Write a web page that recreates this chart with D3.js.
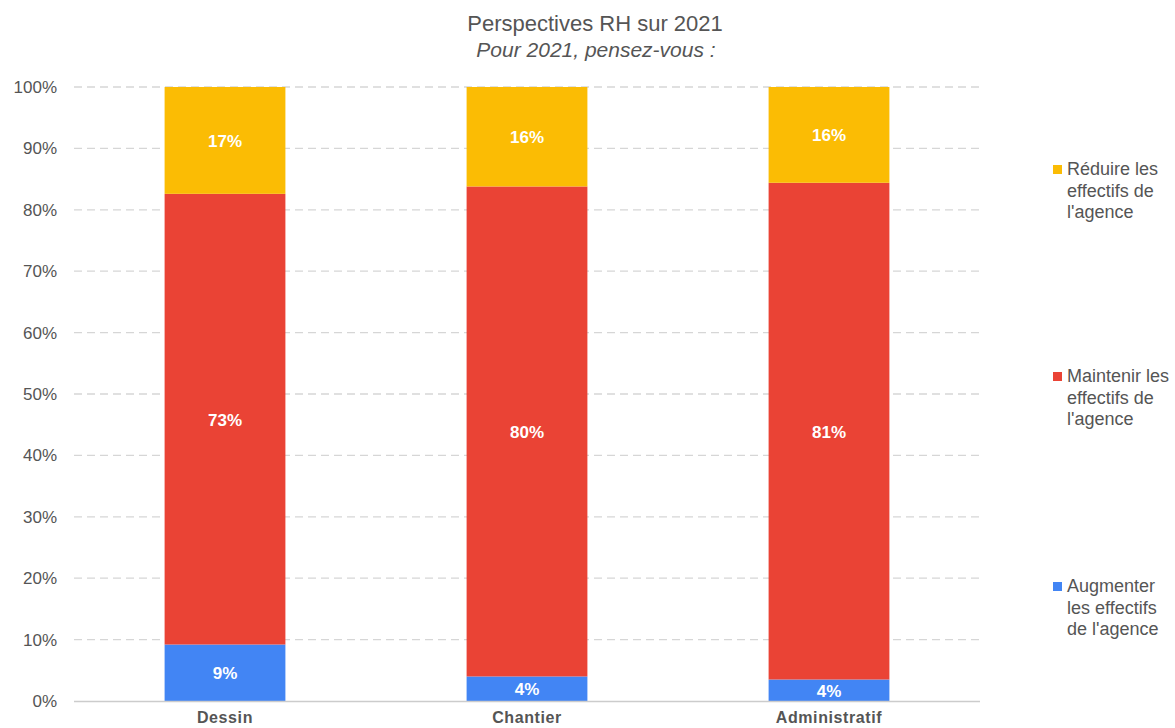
<!DOCTYPE html>
<html>
<head>
<meta charset="utf-8">
<script src="https://cdn.jsdelivr.net/npm/d3@7"></script>
<style>
  body { margin: 0; background: #fff; }
  text { font-family: "Liberation Sans", Arial, sans-serif; }
</style>
</head>
<body>
<div id="container"></div>
<script>
window.onload = function() {
    'use strict';

    const categories = ['Dessin', 'Chantier', 'Administratif'];
    const augmenter  = [9.2, 4.0, 3.5];
    const maintenir  = [73.4, 79.8, 80.9];
    const reduire    = [17.4, 16.2, 15.6];
    const seriesNames = [
        ['Augmenter', 'les effectifs', "de l'agence"],
        ['Maintenir les', 'effectifs de', "l'agence"],
        ['Réduire les', 'effectifs de', "l'agence"]
    ];
    const yTicks = [0, 10, 20, 30, 40, 50, 60, 70, 80, 90, 100];

    const color = {
        augmenter: '#4285f4',
        maintenir: '#ea4335',
        reduire: '#fbbc04',
        text: '#555555',
        grid: '#d6d6d6'
    };

    const canvas = { width: 1175, height: 728 };

    const svg = d3.select('#container')
        .append('svg')
        .attr('width', canvas.width)
        .attr('height', canvas.height);

    const x = d3.scaleBand()
        .domain(categories)
        .range([74, 980])
        .paddingInner(0.6)
        .paddingOuter(0.3);

    const y = d3.scaleLinear()
        .domain([0, 100])
        .range([701, 87]);

    // titre
    svg.append('text')
        .attr('x', 595).attr('y', 31)
        .attr('text-anchor', 'middle')
        .attr('font-size', 22)
        .attr('fill', color.text)
        .text('Perspectives RH sur 2021');
    svg.append('text')
        .attr('x', 596).attr('y', 57)
        .attr('text-anchor', 'middle')
        .attr('font-size', 21)
        .attr('font-style', 'italic')
        .attr('fill', color.text)
        .text('Pour 2021, pensez-vous :');

    // grille
    svg.append('g')
        .selectAll('line')
        .data(yTicks.filter(d => d > 0))
        .join('line')
        .attr('x1', 74).attr('x2', 980)
        .attr('y1', d => y(d)).attr('y2', d => y(d))
        .attr('stroke', color.grid)
        .attr('stroke-width', 1.3)
        .attr('stroke-dasharray', '8,5');

    const yAxis = svg.append('g')
        .attr('transform', 'translate(57,0)')
        .call(d3.axisLeft(y).tickValues(yTicks).tickFormat(d => d + '%').tickSize(0).tickPadding(0));
    yAxis.select('.domain').remove();
    yAxis.selectAll('text')
        .attr('font-size', 17)
        .attr('fill', color.text)
        .attr('font-family', '"Liberation Sans", Arial, sans-serif');

    // barres
    const stacked = categories.map((c, i) => {
        const a = augmenter[i], m = maintenir[i], r = reduire[i];
        return [
            { cat: c, y0: 0, y1: a, v: a, fill: color.augmenter },
            { cat: c, y0: a, y1: a + m, v: m, fill: color.maintenir },
            { cat: c, y0: a + m, y1: a + m + r, v: r, fill: color.reduire }
        ];
    }).flat();

    svg.append('g')
        .selectAll('rect')
        .data(stacked)
        .join('rect')
        .attr('x', d => x(d.cat))
        .attr('width', x.bandwidth())
        .attr('y', d => y(d.y1))
        .attr('height', d => y(d.y0) - y(d.y1))
        .attr('fill', d => d.fill);

    svg.append('g')
        .selectAll('text')
        .data(stacked)
        .join('text')
        .attr('x', d => x(d.cat) + x.bandwidth() / 2)
        .attr('y', d => (y(d.y0) + y(d.y1)) / 2 + 6.5)
        .attr('text-anchor', 'middle')
        .attr('font-size', 17)
        .attr('font-weight', 'bold')
        .attr('fill', '#ffffff')
        .text(d => Math.round(d.v) + '%');

    // axe x
    svg.append('line')
        .attr('x1', 74).attr('x2', 980)
        .attr('y1', 701.5).attr('y2', 701.5)
        .attr('stroke', '#cccccc')
        .attr('stroke-width', 1.5);

    const xAxis = svg.append('g')
        .attr('transform', 'translate(0,701)')
        .call(d3.axisBottom(x).tickSize(0).tickPadding(11));
    xAxis.select('.domain').remove();
    xAxis.selectAll('text')
        .attr('font-size', 16)
        .attr('font-weight', 'bold')
        .attr('letter-spacing', 0.6)
        .attr('fill', color.text)
        .attr('font-family', '"Liberation Sans", Arial, sans-serif');

    // légende
    const legend = [
        { lines: seriesNames[2], fill: color.reduire, y: 169 },
        { lines: seriesNames[1], fill: color.maintenir, y: 376 },
        { lines: seriesNames[0], fill: color.augmenter, y: 586 }
    ];
    const lg = svg.append('g').selectAll('g').data(legend).join('g');
    lg.append('rect')
        .attr('x', 1053).attr('y', d => d.y - 4)
        .attr('width', 9).attr('height', 9)
        .attr('fill', d => d.fill);
    lg.append('text')
        .attr('x', 1067)
        .attr('y', d => d.y + 6)
        .attr('font-size', 18)
        .attr('fill', color.text)
        .selectAll('tspan')
        .data(d => d.lines)
        .join('tspan')
        .attr('x', 1067)
        .attr('dy', (d, i) => i === 0 ? 0 : 21.5)
        .text(d => d);
};
</script>
</body>
</html>
